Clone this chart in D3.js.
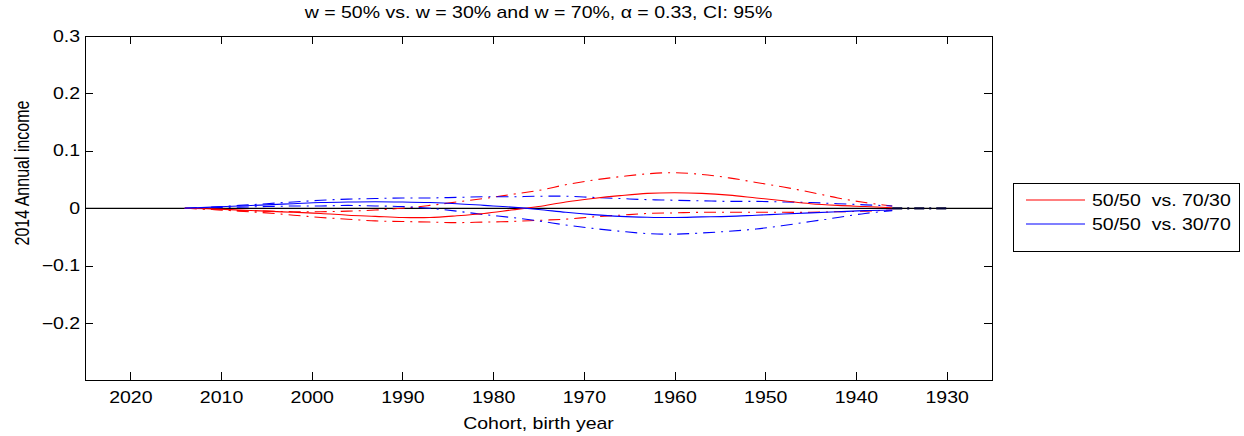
<!DOCTYPE html>
<html>
<head>
<meta charset="utf-8">
<script src="https://cdn.jsdelivr.net/npm/d3@7"></script>
<style>
  body { margin: 0; background: #fff; }
  text { font-family: "Liberation Sans", Arial, Helvetica, sans-serif; fill: #000; }
</style>
</head>
<body>
<script>
// cohort birth years
const years = [2014, 2011, 2008, 2005, 2002, 1999, 1996, 1993, 1990, 1987, 1984, 1981, 1978,
  1975, 1972, 1969, 1966, 1963, 1960, 1957, 1954, 1951, 1948, 1945, 1942, 1939, 1936];

// 50/50 vs. 70/30
const redEst = [0, -0.001, -0.003, -0.005, -0.007, -0.009, -0.012, -0.014, -0.016, -0.016, -0.013, -0.009, -0.003,
  0.003, 0.011, 0.017, 0.022, 0.026, 0.027, 0.026, 0.023, 0.018, 0.013, 0.008, 0.005, 0.003, 0.001];
const redHi = [0, -0.002, -0.004, -0.005, -0.006, -0.006, -0.005, -0.003, 0.000, 0.005, 0.011, 0.017, 0.024,
  0.031, 0.041, 0.049, 0.055, 0.060, 0.062, 0.059, 0.053, 0.045, 0.037, 0.028, 0.018, 0.010, 0.004];
const redLo = [0, -0.002, -0.005, -0.008, -0.012, -0.016, -0.019, -0.022, -0.023, -0.024, -0.025, -0.024, -0.023,
  -0.021, -0.019, -0.015, -0.012, -0.009, -0.008, -0.007, -0.007, -0.007, -0.007, -0.007, -0.006, -0.005, -0.003];

// 50/50 vs. 30/70
const blueEst = [0, 0.002, 0.004, 0.006, 0.008, 0.010, 0.011, 0.0115, 0.011, 0.010, 0.008, 0.005, 0.002,
  -0.002, -0.007, -0.011, -0.014, -0.0155, -0.016, -0.015, -0.014, -0.012, -0.010, -0.008, -0.006, -0.004, -0.003];
const blueHi = [0, 0.002, 0.005, 0.008, 0.011, 0.014, 0.016, 0.017, 0.018, 0.018, 0.019, 0.020, 0.020,
  0.021, 0.021, 0.019, 0.017, 0.015, 0.014, 0.013, 0.012, 0.012, 0.011, 0.010, 0.008, 0.006, 0.004];
const blueLo = [0, 0.001, 0.002, 0.003, 0.004, 0.004, 0.005, 0.004, 0.003, 0.000, -0.005, -0.011, -0.016,
  -0.022, -0.029, -0.035, -0.040, -0.044, -0.045, -0.043, -0.040, -0.036, -0.030, -0.023, -0.016, -0.009, -0.004];

// short dark tail at the oldest cohorts
const tailYears = [1936, 1930];
const tailValues = [0, 0];

const xTicks = [2020, 2010, 2000, 1990, 1980, 1970, 1960, 1950, 1940, 1930];
const yTicks = [-0.2, -0.1, 0, 0.1, 0.2, 0.3];
const legendLabels = ['50/50  vs. 70/30', '50/50  vs. 30/70'];
const title = 'w = 50% vs. w = 30% and w = 70%, \u03b1 = 0.33, CI: 95%';

const width = 1244, height = 436;
const mLeft = 85, mRight = 992, mTop = 36, mBottom = 380;
const sx = 1.22; // text in the picture is stretched sideways
const fontSize = 16;

let svg = d3.select('body').append('svg')
  .attr('width', width)
  .attr('height', height);

let x = d3.scaleLinear().domain([2025, 1925]).range([mLeft, mRight]);
let y = d3.scaleLinear().domain([-0.299, 0.3]).range([mBottom, mTop]);

// axes, ticks pointing inward on all four sides
svg.append('g')
  .attr('transform', 'translate(0,' + mBottom + ')')
  .call(d3.axisBottom(x).tickValues(xTicks).tickFormat(d3.format('d')).tickSize(-8).tickSizeOuter(0).tickPadding(12));
svg.append('g')
  .attr('transform', 'translate(0,' + mTop + ')')
  .call(d3.axisTop(x).tickValues(xTicks).tickFormat('').tickSize(-8).tickSizeOuter(0));
svg.append('g')
  .attr('transform', 'translate(' + mLeft + ',0)')
  .call(d3.axisLeft(y).tickValues(yTicks).tickFormat(d => d === 0 ? '0' : d3.format('.1f')(d).replace('-', '\u2212')).tickSize(-8).tickSizeOuter(0).tickPadding(4));
svg.append('g')
  .attr('transform', 'translate(' + mRight + ',0)')
  .call(d3.axisRight(y).tickValues(yTicks).tickFormat('').tickSize(-8).tickSizeOuter(0));

svg.selectAll('.domain').remove();
svg.selectAll('.tick line').attr('stroke', '#000').attr('shape-rendering', 'crispEdges');
svg.selectAll('.tick text')
  .style('font-size', fontSize + 'px')
  .style('font-family', '"Liberation Sans", Arial, Helvetica, sans-serif')
  .attr('fill', '#000')
  .attr('transform', 'scale(' + sx + ',1)');

// box
svg.append('rect')
  .attr('x', mLeft).attr('y', mTop)
  .attr('width', mRight - mLeft).attr('height', mBottom - mTop)
  .attr('fill', 'none')
  .attr('stroke', '#000')
  .attr('shape-rendering', 'crispEdges');

let plot = svg.append('g');

// zero line
plot.append('path')
  .attr('d', d3.line().x(d => x(d)).y(() => y(0))(x.domain()))
  .attr('stroke', '#000')
  .attr('stroke-width', 1.2)
  .attr('fill', 'none');

let line = d3.line()
  .x(d => x(d[0]))
  .y(d => y(d[1]))
  .curve(d3.curveCatmullRom.alpha(0.5));

const series = [
  { v: redHi, color: '#ff0000', dash: '12,6,2,6' },
  { v: redLo, color: '#ff0000', dash: '12,6,2,6' },
  { v: blueHi, color: '#0000ff', dash: '12,6,2,6' },
  { v: blueLo, color: '#0000ff', dash: '12,6,2,6' },
  { v: redEst, color: '#ff0000', dash: null },
  { v: blueEst, color: '#0000ff', dash: null }
];

plot.selectAll('path.series')
  .data(series)
  .enter()
  .append('path')
  .attr('class', 'series')
  .attr('d', d => line(years.map((yr, i) => [yr, d.v[i]])))
  .attr('fill', 'none')
  .attr('stroke', d => d.color)
  .attr('stroke-width', 1.1)
  .attr('stroke-dasharray', d => d.dash);

plot.append('path')
  .attr('d', line(tailYears.map((yr, i) => [yr, tailValues[i]])))
  .attr('fill', 'none')
  .attr('stroke', '#000033')
  .attr('stroke-width', 2.2)
  .attr('stroke-dasharray', '10,5,2,5');

// texts
function stretchedText(px, py, str, anchor) {
  return svg.append('text')
    .attr('transform', 'translate(' + px + ',' + py + ') scale(' + sx + ',1)')
    .attr('text-anchor', anchor || 'middle')
    .style('font-size', fontSize + 'px')
    .style('white-space', 'pre')
    .text(str);
}

stretchedText((mLeft + mRight) / 2, 18, title);
stretchedText((mLeft + mRight) / 2, 429, 'Cohort, birth year');

svg.append('text')
  .attr('transform', 'translate(29,173) scale(' + sx + ',1) rotate(-90)')
  .attr('text-anchor', 'middle')
  .style('font-size', fontSize + 'px')
  .text('2014 Annual income');

// legend
let legend = svg.append('g');
legend.append('rect')
  .attr('x', 1013).attr('y', 183)
  .attr('width', 226).attr('height', 68)
  .attr('fill', '#fff')
  .attr('stroke', '#000')
  .attr('shape-rendering', 'crispEdges');

const legendColors = ['#ff0000', '#0000ff'];
legendLabels.forEach(function (lab, i) {
  let ly = 200 + i * 24;
  legend.append('line')
    .attr('x1', 1026).attr('x2', 1085)
    .attr('y1', ly).attr('y2', ly)
    .attr('stroke', legendColors[i])
    .attr('stroke-width', 1.1);
  stretchedText(1092, ly + 6, lab, 'start');
});
</script>
</body>
</html>
